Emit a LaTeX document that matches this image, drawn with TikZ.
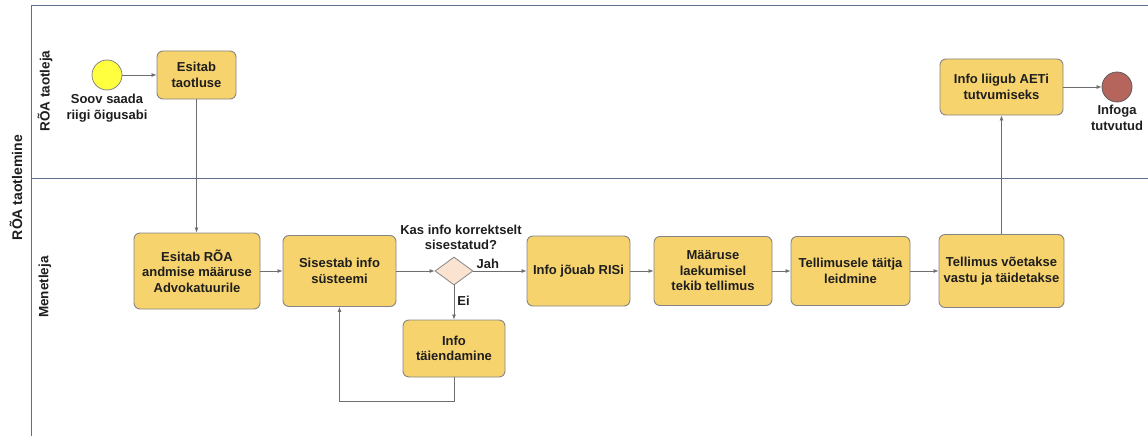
\documentclass[tikz,border=0pt]{standalone}
\usepackage{fontspec}
\setmainfont{Liberation Sans}
\usetikzlibrary{shapes.geometric,arrows.meta}
\definecolor{taskfill}{HTML}{F7D36D}
\definecolor{taskline}{HTML}{858585}
\definecolor{gatefill}{HTML}{FBE3D2}
\definecolor{startfill}{HTML}{FFFF40}
\definecolor{endfill}{HTML}{B6655C}
\definecolor{laneline}{HTML}{5F6C8C}
\definecolor{ink}{HTML}{1E1E1E}
\definecolor{flowline}{HTML}{6E6E6E}
\tikzset{
  task/.style={draw=taskline, fill=taskfill, rounded corners=6pt, line width=0.9pt,
    align=center, text=ink, font=\fontsize{13}{15.5}\selectfont\bfseries, inner sep=2pt},
  gate/.style={diamond, draw=taskline, fill=gatefill, line width=0.8pt, inner sep=0pt,
    minimum width=38pt, minimum height=28pt, shape aspect=1.36},
  evstart/.style={circle, draw=taskline, fill=startfill, line width=0.8pt, minimum size=30pt, inner sep=0pt},
  evend/.style={circle, draw=taskline!70!black, fill=endfill, line width=0.8pt, minimum size=30pt, inner sep=0pt},
  lbl/.style={align=center, text=ink, font=\fontsize{13}{15.5}\selectfont\bfseries, inner sep=0pt},
  lanelbl/.style={rotate=90, text=ink, font=\fontsize{13.5}{16}\selectfont\bfseries, inner sep=0pt},
  flow/.style={draw=flowline, line width=0.75pt, -{Latex[length=5pt,width=4pt]}},
  pool/.style={draw=laneline, line width=0.9pt}
}
\begin{document}
\begin{tikzpicture}[x=1pt,y=-1pt]
\useasboundingbox (0,0) rectangle (1148,436);
% pool and lane borders
\draw[pool] (31,436) -- (31,5) -- (1148,5);
\draw[pool] (31,178) -- (1148,178);
\node[lanelbl, font=\fontsize{14}{16}\selectfont\bfseries] (poolname) at (16,187.5) {RÕA taotlemine};
\node[lanelbl] (lane1) at (45,91) {RÕA taotleja};
\node[lanelbl] (lane2) at (45,287) {Menetleja};

% applicant lane
\node[evstart] (start) at (107,75) {};
\node[lbl, anchor=north] (startlbl) at (107,94) {Soov saada\\riigi õigusabi};
\node[task, minimum width=79pt, minimum height=48pt] (esitab) at (196.5,75) {Esitab\\taotluse};
\node[task, minimum width=123pt, minimum height=56pt] (aeti) at (1001.5,87) {Info liigub AETi\\tutvumiseks};
\node[evend] (end) at (1117,87) {};
\node[lbl, anchor=north] (endlbl) at (1117,105) {Infoga\\tutvutud};

% handler lane
\node[task, minimum width=126pt, minimum height=76pt] (maarus) at (197,271) {Esitab RÕA\\andmise määruse\\Advokatuurile};
\node[task, minimum width=113pt, minimum height=71pt] (sis) at (339.5,271) {Sisestab info\\süsteemi};
\node[gate] (gw) at (454,271) {};
\node[lbl, anchor=south] (q) at (461,250) {Kas info korrektselt\\sisestatud?};
\node[task, minimum width=102pt, minimum height=57pt] (tai) at (454,348.5) {Info\\täiendamine};
\node[task, minimum width=103pt, minimum height=70pt] (ris) at (578.5,271) {Info jõuab RISi};
\node[task, minimum width=118pt, minimum height=69pt] (tell) at (713,271) {Määruse\\laekumisel\\tekib tellimus};
\node[task, minimum width=119pt, minimum height=69pt] (taitja) at (850.5,271) {Tellimusele täitja\\leidmine};
\node[task, minimum width=125pt, minimum height=73pt] (vastu) at (1001.5,271) {Tellimus võetakse\\vastu ja täidetakse};

% sequence flows
\draw[flow] (start) -- (esitab);
\draw[flow] (esitab.south) -- (esitab.south |- maarus.north);
\draw[flow] (maarus) -- (sis);
\draw[flow] (sis) -- (gw);
\draw[flow] (gw) -- node[lbl, pos=0.27, anchor=south, yshift=2pt] (jah) {Jah} (ris);
\draw[flow] (gw) -- node[lbl, pos=0.45, anchor=west, xshift=3pt] (ei) {Ei} (tai);
\draw[flow] (tai.south) -- ++(0,24) -| (sis.south);
\draw[flow] (ris) -- (tell);
\draw[flow] (tell) -- (taitja);
\draw[flow] (taitja) -- (vastu);
\draw[flow] (vastu.north) -- (aeti.south);
\draw[flow] (aeti) -- (end);
\end{tikzpicture}
\end{document}
